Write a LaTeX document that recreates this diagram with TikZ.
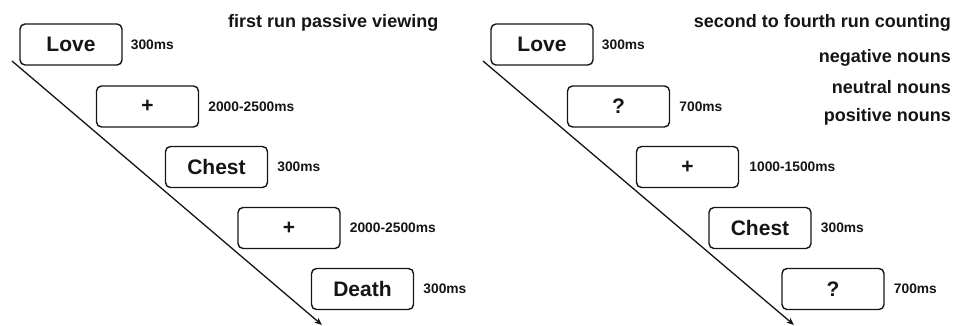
\documentclass[tikz,border=0pt]{standalone}
\usepackage{fontspec}
\setmainfont{Liberation Sans}
\usetikzlibrary{arrows.meta}
\definecolor{ink}{HTML}{151515}
\tikzset{
  stim/.style={draw=ink, line width=1.4pt, rounded corners=5pt, minimum width=102pt, minimum height=41pt, inner sep=0pt, text=ink, font=\fontsize{21}{24}\selectfont\bfseries},
  dur/.style={anchor=west, inner sep=0pt, text=ink, font=\fontsize{13.8}{16}\selectfont\bfseries},
  title/.style={inner sep=0pt, text=ink, font=\fontsize{18}{21}\selectfont\bfseries},
  timeline/.style={draw=ink, line width=1.3pt, -{Stealth[length=7.5pt,width=6pt]}}
}
\begin{document}
\begin{tikzpicture}[x=1pt,y=-1pt]
\useasboundingbox (0,0) rectangle (953,326);
% left panel
\node[title, anchor=west] (t1) at (228,23) {first run passive viewing};
\node[stim] (l1) at (71,44.5) {Love};
\node[stim] (l2) at (147.5,106.5) {+};
\node[stim] (l3) at (216.5,167) {Chest};
\node[stim] (l4) at (289,228) {+};
\node[stim] (l5) at (362.5,289) {Death};
\node[dur] (d1) at ([xshift=8pt]l1.east) {300ms};
\node[dur] (d2) at ([xshift=9pt]l2.east) {2000-2500ms};
\node[dur] (d3) at ([xshift=9pt]l3.east) {300ms};
\node[dur] (d4) at ([xshift=9pt]l4.east) {2000-2500ms};
\node[dur] (d5) at ([xshift=9pt]l5.east) {300ms};
\coordinate (a1) at (12,61);
\coordinate (b1) at (322,325);
\draw[timeline] (a1) -- (b1);
% right panel
\node[title, anchor=east] (t2) at (951,23) {second to fourth run counting};
\node[title, anchor=east] (t3) at (951,58) {negative nouns};
\node[title, anchor=east] (t4) at (951,87.5) {neutral nouns};
\node[title, anchor=east] (t5) at (951,116.5) {positive nouns};
\node[stim] (r1) at (542,44.5) {Love};
\node[stim] (r2) at (618.5,106.5) {?};
\node[stim] (r3) at (687.5,167) {+};
\node[stim] (r4) at (760,228) {Chest};
\node[stim] (r5) at (833,289) {?};
\node[dur] (e1) at ([xshift=8pt]r1.east) {300ms};
\node[dur] (e2) at ([xshift=9pt]r2.east) {700ms};
\node[dur] (e3) at ([xshift=10pt]r3.east) {1000-1500ms};
\node[dur] (e4) at ([xshift=9pt]r4.east) {300ms};
\node[dur] (e5) at ([xshift=9pt]r5.east) {700ms};
\coordinate (a2) at (483,61);
\coordinate (b2) at (794,325);
\draw[timeline] (a2) -- (b2);
\end{tikzpicture}
\end{document}
